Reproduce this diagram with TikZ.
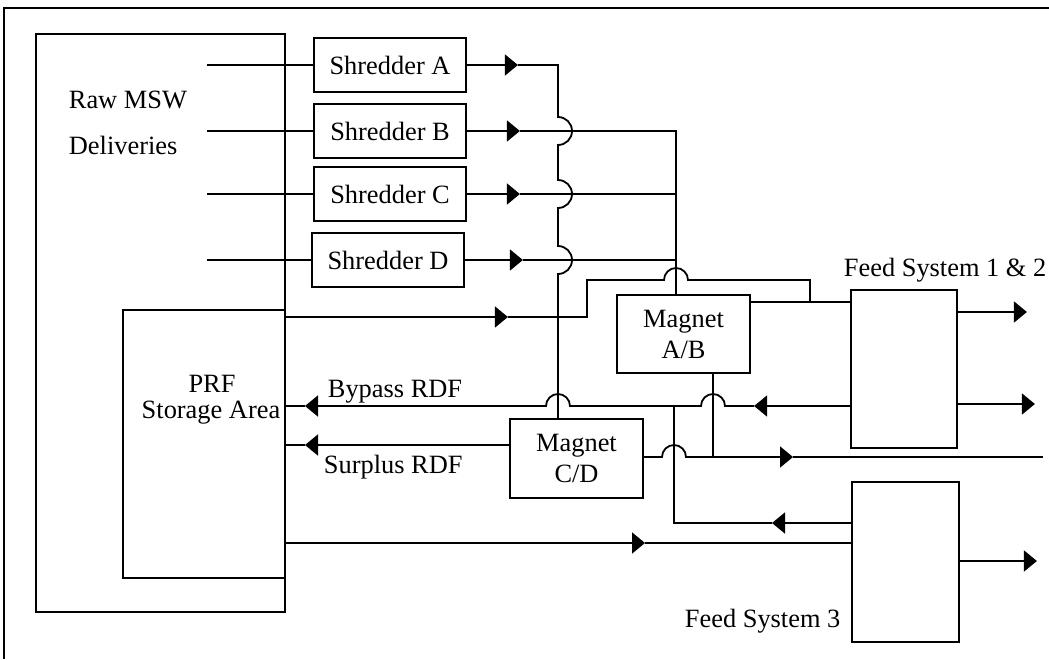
\documentclass[tikz,border=0pt]{standalone}
\usepackage{fontspec}
\setmainfont{Liberation Serif}
\usetikzlibrary{arrows.meta}
\begin{document}
\begin{tikzpicture}[x=0.5pt,y=-0.5pt,
  line width=0.9pt,
  txt/.style={font=\fontsize{13.2}{15.5}\selectfont},
  box/.style={draw, rectangle, inner sep=0pt, align=center, txt},
  lbl/.style={inner sep=0pt, txt},
  tip/.style={-{Triangle[length=6.5pt,width=10.5pt]}},
]
\useasboundingbox (0,0) rectangle (1049,659);

% outer frame
\draw (4,659) -- (4,8) -- (1049,8);

% storage areas
\node[box, minimum width=124.5pt, minimum height=289pt] (raw) at (160.5,323) {};
\node[box, minimum width=81pt, minimum height=134pt] (prf) at (204,444) {};
\node[lbl, anchor=base west] (rawlbl) at (68,108) {Raw MSW};
\node[lbl, anchor=base west] (dellbl) at (68,154) {Deliveries};
\node[lbl] (prflbl) at (212,384) {PRF};
\node[lbl] (storlbl) at (211,413) {Storage Area};

% shredders
\node[box, minimum width=76pt, minimum height=27pt] (shA) at (390,65) {Shredder A};
\node[box, minimum width=76pt, minimum height=27pt] (shB) at (390,131) {Shredder B};
\node[box, minimum width=76pt, minimum height=27pt] (shC) at (390,194) {Shredder C};
\node[box, minimum width=76pt, minimum height=27pt] (shD) at (388,260) {Shredder D};

% magnets
\node[box, minimum width=66.5pt, minimum height=39pt] (magAB) at (683.5,334) {Magnet\\A/B};
\node[box, minimum width=66.5pt, minimum height=39.5pt] (magCD) at (576.5,458.5) {Magnet\\C/D};

% feed systems
\node[box, minimum width=53pt, minimum height=79pt] (feed12) at (904,369) {};
\node[box, minimum width=53.5pt, minimum height=80pt] (feed3) at (905.5,562) {};
\node[lbl, anchor=base west] (f12lbl) at (843,276) {Feed System 1 \& 2};
\node[lbl, anchor=base west] (f3lbl) at (684,627) {Feed System 3};

% flow labels
\node[lbl, anchor=base west] (bylbl) at (327,397) {Bypass RDF};
\node[lbl, anchor=base west] (sulbl) at (323,473) {Surplus RDF};

% deliveries into the shredders
\draw (shA.west) -- ++(-106,0);
\draw (shB.west) -- ++(-106,0);
\draw (shC.west) -- ++(-106,0);
\draw (shD.west) -- ++(-104,0);

% shredder outputs
\draw[tip] (shA.east) -- ++(51,0) coordinate (tA);
\draw[tip] (shB.east) -- ++(53,0) coordinate (tB);
\draw[tip] (shC.east) -- ++(53,0) coordinate (tC);
\draw[tip] (shD.east) -- ++(58,0) coordinate (tD);

% shredder A down to magnet C/D, hopping over the other feeds
\draw (tA) -- (558,65) -- (558,117) arc[start angle=90, end angle=-90, radius=7pt]
  -- (558,180) arc[start angle=90, end angle=-90, radius=7pt]
  -- (558,246) arc[start angle=90, end angle=-90, radius=7pt]
  -- (magCD.north -| 558,0);

% shredders B, C, D collected to magnet A/B
\draw (tB) -- (676,131) coordinate (jB) -- (magAB.north -| 676,0);
\draw (tC) -- (676,194) coordinate (jC);
\draw (tD) -- (676,260) coordinate (jD);

% direct PRF feed to feed system 1 & 2
\draw[tip] (prf.east |- 0,317) -- ++(222,0) coordinate (tP);
\draw (tP) -- (587,317) -- (587,280) -- (664,280) arc[start angle=180, end angle=0, radius=6pt]
  -- (810,280) -- (810,302) coordinate (jM);

% magnet A/B to feed system 1 & 2
\draw (magAB.east |- 0,302) -- (feed12.west |- 0,302);

% feed system outputs
\draw[tip] (feed12.east |- 0,312) -- ++(69,0);
\draw[tip] (feed12.east |- 0,404) -- ++(77,0);
\draw[tip] (feed3.east |- 0,561) -- ++(77,0);

% bypass RDF back to storage
\draw[tip] (feed12.west |- 0,406) -- ++(-96,0) coordinate (tBy);
\draw[tip] (tBy) -- (725,406) arc[start angle=0, end angle=180, radius=6pt]
  -- (674,406) coordinate (jBy)
  -- (570,406) arc[start angle=0, end angle=180, radius=6pt]
  -- (305,406) coordinate (tBy2);
\draw (tBy2) -- (prf.east |- 0,406);

% surplus RDF from magnet C/D
\draw[tip] (magCD.west |- 0,445) -- (305,445) coordinate (tSu);
\draw (tSu) -- (prf.east |- 0,445);

% magnet A/B reject line
\draw (magAB.south -| 713,0) -- (713,457) coordinate (jR);

% magnet C/D output line
\draw[tip] (magCD.east |- 0,457) -- (662,457) arc[start angle=180, end angle=0, radius=6pt]
  -- (jR) -- (793,457) coordinate (tCD);
\draw (tCD) -- (1043,457);

% feed system 3 return to bypass line
\draw[tip] (feed3.west |- 0,523) -- (772,523) coordinate (tF3);
\draw (tF3) -- (674,523) -- (jBy);

% PRF to feed system 3
\draw[tip] (prf.east |- 0,543) -- (645,543) coordinate (tPF);
\draw (tPF) -- (feed3.west |- 0,543);
\end{tikzpicture}
\end{document}
